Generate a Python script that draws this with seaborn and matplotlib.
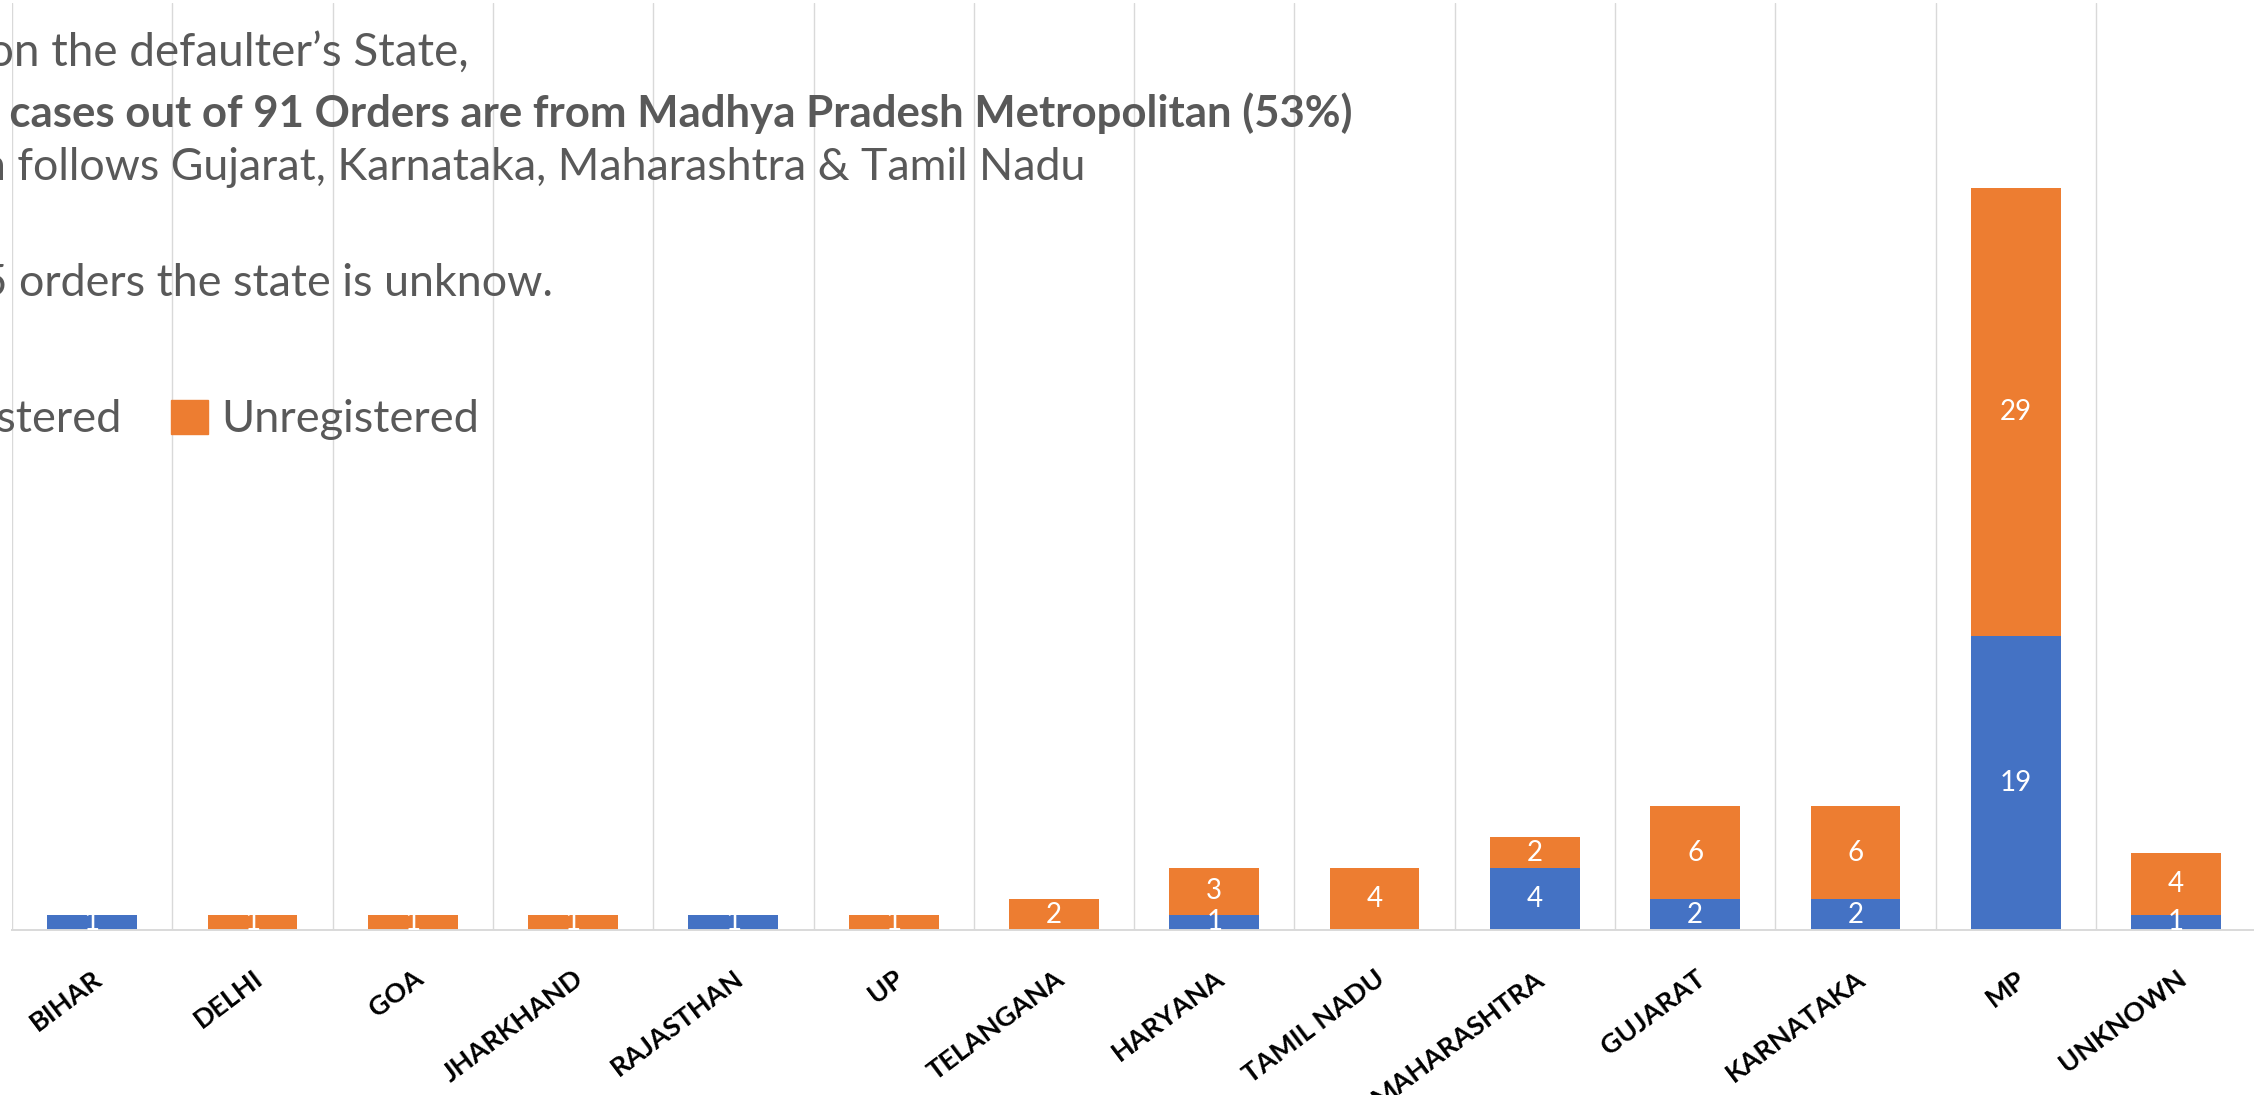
import matplotlib
matplotlib.use("Agg")
import matplotlib.pyplot as plt
import matplotlib.patches as mpatches
import seaborn as sns
import pandas as pd
import numpy as np

states = ["BIHAR", "DELHI", "GOA", "JHARKHAND", "RAJASTHAN", "UP", "TELANGANA",
          "HARYANA", "TAMIL NADU", "MAHARASHTRA", "GUJARAT", "KARNATAKA", "MP", "UNKNOWN"]
registered = [1, 0, 0, 0, 1, 0, 0, 1, 0, 4, 2, 2, 19, 1]
unregistered = [0, 1, 1, 1, 0, 1, 2, 3, 4, 2, 6, 6, 29, 4]
notes = ["Based on the defaulter\u2019s State,",
         "48 cases out of 91 Orders are from Madhya Pradesh Metropolitan (53%)",
         "Then follows Gujarat, Karnataka, Maharashtra & Tamil Nadu",
         "For 5 orders the state is unknow."]
series_names = ["Registered", "Unregistered"]

BLUE = "#4472C4"
ORANGE = "#ED7D31"
GREY_TXT = "#595959"
GRID = "#D9D9D9"

sns.set_theme(style="white")
plt.rcParams["font.family"] = ["Lato", "DejaVu Sans"]

df = pd.DataFrame({"state": states, "reg": registered, "unreg": unregistered})
df["total"] = df["reg"] + df["unreg"]

W, H = 2254, 1095
fig = plt.figure(figsize=(W / 100, H / 100), dpi=100)
ax = fig.add_axes([12 / W, 1 - 930 / H, 14 * 160.3 / W, 927 / H])

bw = 0.56
sns.barplot(data=df, x="state", y="total", color=ORANGE, width=bw, ax=ax,
            saturation=1, errorbar=None, zorder=3)
sns.barplot(data=df, x="state", y="reg", color=BLUE, width=bw, ax=ax,
            saturation=1, errorbar=None, zorder=3)
for p in ax.patches:
    p.set_linewidth(0)

ax.set_xlim(-0.5, len(states) - 0.5)
ax.set_ylim(0, 60)

# data labels
for i, (r, u) in enumerate(zip(registered, unregistered)):
    if r > 0:
        ax.text(i, r / 2, str(r), ha="center", va="center", color="white",
                fontsize=20, zorder=5)
    if u > 0:
        ax.text(i, r + u / 2, str(u), ha="center", va="center", color="white",
                fontsize=20, zorder=5)

# gridlines between categories
ax.set_xticks(np.arange(-0.5, len(states), 1.0), minor=True)
ax.grid(True, which="minor", axis="x", color=GRID, linewidth=1.0, zorder=0)
ax.grid(False, which="major")
ax.set_yticks([])
ax.set_xlabel("")
ax.set_ylabel("")
for s in ["top", "right", "left"]:
    ax.spines[s].set_visible(False)
ax.spines["bottom"].set_color(GRID)
ax.spines["bottom"].set_linewidth(1.4)
ax.spines["bottom"].set_zorder(4)

ax.tick_params(axis="x", which="both", length=0, pad=26)
ax.set_xticks(range(len(states)))
ax.set_xticklabels(states, rotation=37, ha="right", rotation_mode="anchor",
                   fontsize=19.5, fontweight="bold", color="black")

# notes text
ends = [469, 1353, 1085, 553]
ys = [53, 113, 167, 283]
sizes = [33, 31.5, 32.2, 32.3]
for k, (t, xe, yc, fs) in enumerate(zip(notes, ends, ys, sizes)):
    fig.text(xe / W, 1 - yc / H, t, ha="right", va="center", color=GREY_TXT,
             fontsize=fs, fontweight="bold" if k == 1 else "normal")

# legend
handles = [mpatches.Patch(color=BLUE, label=series_names[0]),
           mpatches.Patch(color=ORANGE, label=series_names[1])]
fig.legend(handles=handles, loc="center right", ncol=2,
           bbox_to_anchor=(479 / W, 1 - 420 / H), frameon=False,
           fontsize=32.5, labelcolor=GREY_TXT, borderpad=0, borderaxespad=0,
           handlelength=0.82, handleheight=0.8, handletextpad=0.28,
           columnspacing=1.1)

fig.savefig("out.png", dpi=100)
